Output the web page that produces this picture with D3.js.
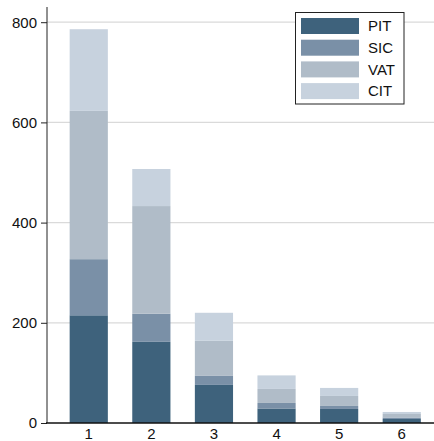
<!DOCTYPE html>
<html>
<head>
<meta charset="utf-8">
<script src="https://cdn.jsdelivr.net/npm/d3@7"></script>
<style>
  body { margin: 0; background: #fff; }
  svg { display: block; font-family: "Liberation Sans", Arial, sans-serif; }
</style>
</head>
<body>
<div id="chart"></div>
<script>
var categories = ["1", "2", "3", "4", "5", "6"];
var seriesNames = ["PIT", "SIC", "VAT", "CIT"];
var pit = [215, 162, 76, 29, 28, 8];
var sic = [112, 56, 18, 11, 6, 3];
var vat = [296, 215, 70, 28, 20, 7];
var cit = [163, 74, 56, 27, 16, 4];
var yTicks = [0, 200, 400, 600, 800];
var colors = ["#3e627c", "#7a90a7", "#b0bcc8", "#c7d2de"];

var width = 434, height = 441;

var rows = categories.map(function(c, i) {
    return {cat: c, PIT: pit[i], SIC: sic[i], VAT: vat[i], CIT: cit[i]};
});

var svg = d3.select("#chart").append("svg")
    .attr("width", width)
    .attr("height", height);

var x = d3.scaleBand()
    .domain(categories)
    .range([46.5, 444])
    .paddingInner(0.39)
    .paddingOuter(0.37);

var y = d3.scaleLinear()
    .domain([0, 800])
    .range([423, 22.2]);

var color = d3.scaleOrdinal().domain(seriesNames).range(colors);

var stack = d3.stack().keys(seriesNames)(rows);

// gridlines
svg.append("g")
    .selectAll("line")
    .data(yTicks.filter(function(d) { return d > 0; }))
    .enter().append("line")
    .attr("x1", 47)
    .attr("x2", width)
    .attr("y1", function(d) { return y(d); })
    .attr("y2", function(d) { return y(d); })
    .attr("stroke", "#dadada")
    .attr("stroke-width", 1.2);

// bars
svg.append("g")
    .selectAll("g")
    .data(stack)
    .enter().append("g")
    .attr("fill", function(d) { return color(d.key); })
    .selectAll("rect")
    .data(function(d) { return d; })
    .enter().append("rect")
    .attr("x", function(d) { return x(d.data.cat); })
    .attr("width", x.bandwidth())
    .attr("y", function(d) { return y(d[1]); })
    .attr("height", function(d) { return y(d[0]) - y(d[1]); });

// y axis
var yAxis = svg.append("g")
    .attr("transform", "translate(47,0)")
    .call(d3.axisLeft(y).tickValues(yTicks).tickSize(6).tickPadding(4));
yAxis.select(".domain").attr("d", "M0,7V423");
yAxis.selectAll("text").attr("font-size", 15).attr("fill", "#111")
    .style("font-family", "'Liberation Sans', Arial, sans-serif");
yAxis.selectAll("line, path").attr("stroke", "#222");

// x axis
var xAxis = svg.append("g")
    .attr("transform", "translate(0,423)")
    .call(d3.axisBottom(x).tickSize(0).tickPadding(5));
xAxis.select(".domain").attr("d", "M46,0H" + width).attr("stroke", "#111").attr("stroke-width", 1.3);
xAxis.selectAll("text").attr("font-size", 15).attr("fill", "#111")
    .style("font-family", "'Liberation Sans', Arial, sans-serif");

// legend
var legend = svg.append("g").attr("transform", "translate(295.5,12.5)");
legend.append("rect")
    .attr("width", 108.5)
    .attr("height", 91.5)
    .attr("fill", "#fff")
    .attr("stroke", "#222");

var item = legend.selectAll("g.item")
    .data(seriesNames)
    .enter().append("g")
    .attr("class", "item")
    .attr("transform", function(d, i) { return "translate(5.5," + (5.5 + i * 21.7) + ")"; });

item.append("rect")
    .attr("width", 58)
    .attr("height", 16)
    .attr("fill", function(d) { return color(d); });

item.append("text")
    .attr("x", 67)
    .attr("y", 8)
    .attr("dy", "0.35em")
    .attr("font-size", 15)
    .attr("fill", "#111")
    .text(function(d) { return d; });
</script>
</body>
</html>
